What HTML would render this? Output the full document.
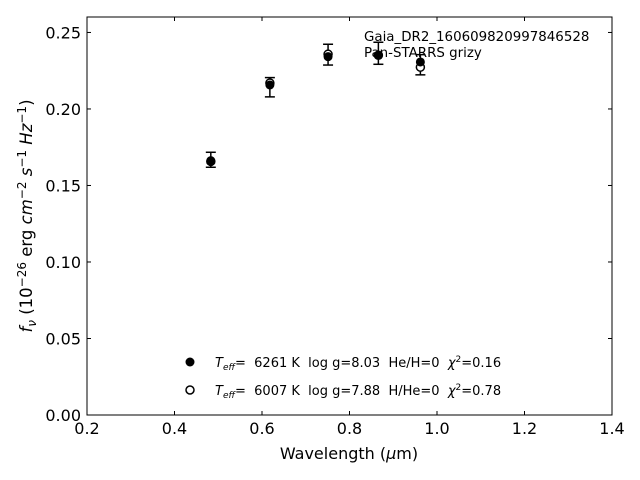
<!DOCTYPE html>
<html><head><meta charset="utf-8"><style>
body{margin:0;background:#fff;}
svg{display:block;font-family:"DejaVu Sans","Liberation Sans",sans-serif;}
svg text{white-space:pre;}
</style></head><body>
<svg id="chart" width="640" height="480" viewBox="0 0 640 480">
<rect x="87" y="17" width="525" height="398" fill="none" stroke="#000" stroke-width="1"/>
<g id="xticks"></g>
<g id="yticks"></g>
<g id="marks"></g>
<text x="349" y="459" font-size="16" text-anchor="middle">Wavelength (<tspan font-style="italic">μ</tspan>m)</text>
<text transform="translate(32,216) rotate(-90)" font-size="16.5" text-anchor="middle"><tspan font-style="italic">f</tspan><tspan font-style="italic" font-size="12" dy="4">ν</tspan><tspan dy="-4"> (10</tspan><tspan font-size="12" dy="-6">−26</tspan><tspan dy="6"> erg </tspan><tspan font-style="italic">cm</tspan><tspan font-size="12" dy="-6">−2</tspan><tspan dy="6"> </tspan><tspan font-style="italic">s</tspan><tspan font-size="12" dy="-6">−1</tspan><tspan dy="6"> </tspan><tspan font-style="italic">Hz</tspan><tspan font-size="12" dy="-6">−1</tspan><tspan dy="6">)</tspan></text>
<text x="364" y="41" font-size="13.4">Gaia_DR2_160609820997846528</text>
<text x="364" y="57" font-size="13.4">Pan-STARRS grizy</text>
<circle cx="190" cy="362" r="4.5" fill="#000"/>
<text x="215" y="367" font-size="13"><tspan font-style="italic">T</tspan><tspan font-style="italic" font-size="9" dy="3">eff</tspan><tspan dy="-3">=  6261 K  log g=8.03  He/H=0  </tspan><tspan font-style="italic">χ</tspan><tspan font-size="9" dy="-5">2</tspan><tspan dy="5">=0.16</tspan></text>
<circle cx="190" cy="390" r="4" fill="#fff" stroke="#000" stroke-width="1.5"/>
<text x="215" y="395" font-size="13"><tspan font-style="italic">T</tspan><tspan font-style="italic" font-size="9" dy="3">eff</tspan><tspan dy="-3">=  6007 K  log g=7.88  H/He=0  </tspan><tspan font-style="italic">χ</tspan><tspan font-size="9" dy="-5">2</tspan><tspan dy="5">=0.78</tspan></text>
</svg>
<script>
const wavelengths=[0.483,0.618,0.751,0.866,0.962];
const observed=[0.1668,0.2142,0.2355,0.2364,0.2289];
const obsErr=[0.0049,0.0063,0.0068,0.0072,0.0066];
const modelFilled=[0.1662,0.2157,0.2342,0.2351,0.2307];
const modelOpen=[0.1657,0.2170,0.2358,0.2351,0.2273];
const xTicks=[0.2,0.4,0.6,0.8,1.0,1.2,1.4];
const yTicks=[0.00,0.05,0.10,0.15,0.20,0.25];
const NS="http://www.w3.org/2000/svg";
const X0=87,X1=612,Y0=415,Y1=17,XMIN=0.2,XMAX=1.4,YMIN=0,YMAX=0.2601;
const sx=v=>X0+(v-XMIN)/(XMAX-XMIN)*(X1-X0);
const sy=v=>Y0-(v-YMIN)/(YMAX-YMIN)*(Y0-Y1);
function mk(tag,attrs,parent){const e=document.createElementNS(NS,tag);for(const k in attrs)e.setAttribute(k,attrs[k]);parent.appendChild(e);return e;}
const gx=document.getElementById('xticks'),gy=document.getElementById('yticks'),gm=document.getElementById('marks');
xTicks.forEach(t=>{const x=sx(t);
 let l=mk('line',{x1:x,x2:x,y1:Y0,y2:Y0-4,stroke:'#000'},gx);
 
 
 let l2=mk('line',{x1:x,x2:x,y1:Y1,y2:Y1+4,stroke:'#000'},gx);
 
 
 let tx=mk('text',{x:x,y:Y0+19,'font-size':16,'text-anchor':'middle'},gx);tx.textContent=t.toFixed(1);
 
 });
yTicks.forEach(t=>{const y=sy(t);
 let l=mk('line',{x1:X0,x2:X0+4,y1:y,y2:y,stroke:'#000'},gy);
 
 
 let l2=mk('line',{x1:X1,x2:X1-4,y1:y,y2:y,stroke:'#000'},gy);
 
 
 let tx=mk('text',{x:X0-6,y:y+6,'font-size':16,'text-anchor':'end'},gy);tx.textContent=t.toFixed(2);
 
 });
wavelengths.forEach((w,i)=>{const x=sx(w);
 const yt=sy(observed[i]+obsErr[i]),yb=sy(observed[i]-obsErr[i]);
 const g=mk('g',{stroke:'#000','stroke-width':1.5},gm);
 
 
 mk('line',{x1:x,x2:x,y1:yt,y2:yb},g);
 mk('line',{x1:x-5,x2:x+5,y1:yt,y2:yt},g);
 mk('line',{x1:x-5,x2:x+5,y1:yb,y2:yb},g);
 const o=mk('circle',{cx:x,cy:sy(modelOpen[i]),r:4,fill:'#fff',stroke:'#000','stroke-width':1.5},gm);
 
 
 const f=mk('circle',{cx:x,cy:sy(modelFilled[i]),r:4.5,fill:'#000'},gm);
 
 
});
</script>
</body></html>
